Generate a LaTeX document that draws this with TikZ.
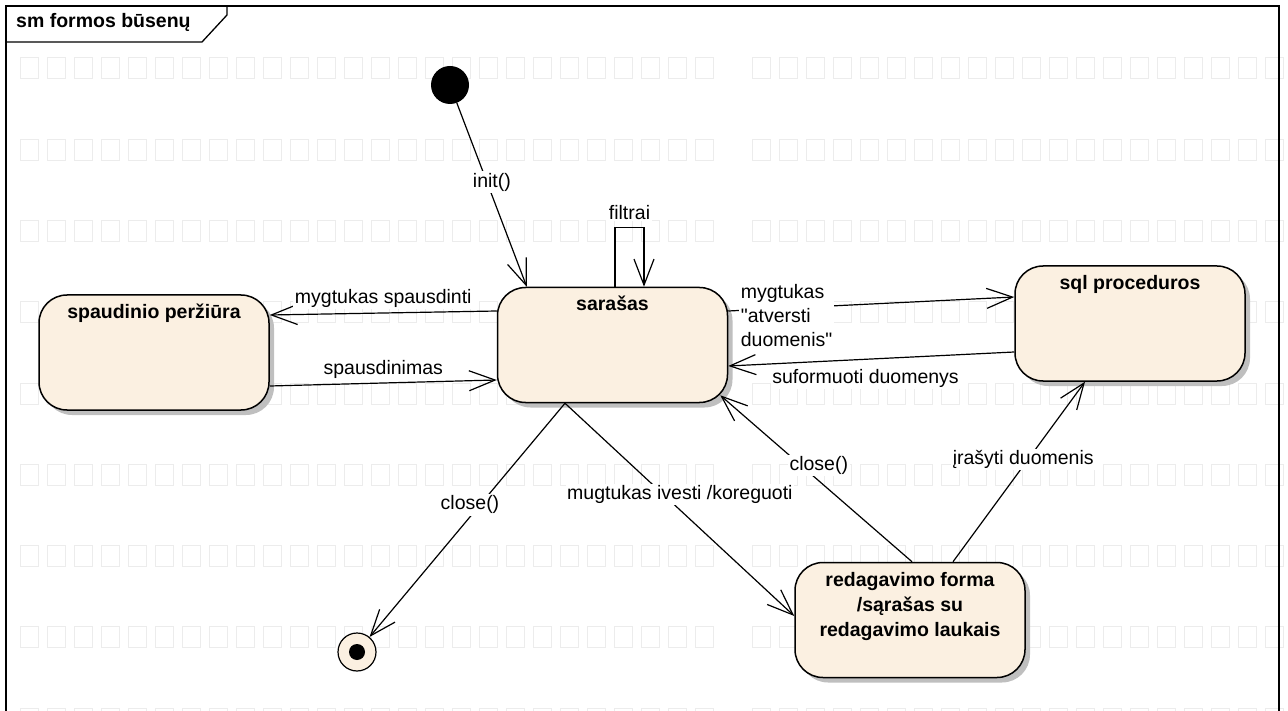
\documentclass[tikz,border=0pt]{standalone}
\usepackage{fontspec}
\setmainfont[Ligatures=TeXOff]{Liberation Sans}
\usetikzlibrary{arrows.meta,shadows}

\definecolor{stfill}{RGB}{251,240,225}
\definecolor{gridgray}{RGB}{236,236,236}

\begin{document}
\begin{tikzpicture}[x=1pt,y=-1pt]
  \tikzset{stbox/.style={draw,line width=1.5pt,fill=stfill,rounded corners=28pt,minimum width=230pt,minimum height=115pt,
      drop shadow={shadow xshift=5pt,shadow yshift=-5pt,fill=black!25,opacity=1}}}
  \tikzset{sttitle/.style={font=\fontsize{19.5}{25}\selectfont\bfseries,inner sep=0pt,align=center}}
  \tikzset{tr/.style={line width=1.2pt,-{Straight Barb[length=26pt,width=20pt]}}}
  \tikzset{lbl/.style={font=\fontsize{19.5}{24}\selectfont,fill=white,inner sep=1.5pt}}
  \tikzset{pagesq/.style={draw=gridgray,line width=1pt}}
  \useasboundingbox (0,0) rectangle (1288,711);
  % page grid
  \foreach \r in {0,...,8}{
    \foreach \c in {0,...,25}
      \draw[pagesq] (20+27*\c,58+81.25*\r) rectangle ++(18,21);
    \foreach \c in {0,...,19}
      \draw[pagesq] (752+27*\c,58+81.25*\r) rectangle ++(18,21);
  }
  % frame
  \draw[line width=1.3pt] (6,711) -- (6,6) -- (1279,6) -- (1279,711);
  \draw[line width=1.3pt] (6,42) -- (202,42) -- (227,15) -- (227,6);
  \node[font=\fontsize{19.5}{24}\selectfont\bfseries,anchor=base west,inner sep=0pt] (titlas) at (16,28) {sm formos būsenų};

  % states
  \node[circle,fill=black,minimum size=38pt,inner sep=0pt] (init) at (450,85) {};
  \node[circle,draw,line width=1.2pt,fill=stfill,minimum size=38pt,inner sep=0pt] (final) at (357,652) {};
  \node[circle,fill=black,minimum size=16pt,inner sep=0pt] (finaldot) at (final) {};

  \node[stbox] (saras) at (612.5,345) {};
  \node[stbox] (spaud) at (154,352.5) {};
  \node[stbox] (sql) at (1130,323.5) {};
  \node[stbox] (redag) at (910,620) {};
  \node[sttitle,anchor=base] (sarasT) at ([yshift=-24pt]saras.north) {sarašas};
  \node[sttitle,anchor=base] (spaudT) at ([yshift=-24pt]spaud.north) {spaudinio peržiūra};
  \node[sttitle,anchor=base] (sqlT) at ([yshift=-24pt]sql.north) {sql proceduros};
  \node[sttitle,anchor=north] (redagT) at ([yshift=-10pt]redag.north) {redagavimo forma\\/sąrašas su\\redagavimo laukais};

  % transitions
  \draw[tr] (init) -- node[lbl,pos=0.43,xshift=5pt] (lInit) {init()} ([xshift=30pt]saras.north west);
  \draw[tr] ([xshift=2.5pt]saras.north) -- ++(0,-59) -| node[lbl,pos=0.25,above=6pt] (lFiltr) {filtrai} ([xshift=31.5pt]saras.north);
  \draw[tr] ([yshift=34pt]saras.west) -- node[lbl,above=3pt] (lSpausd) {mygtukas spausdinti} ([yshift=37.5pt]spaud.east);
  \draw[tr] ([yshift=-33.5pt]spaud.east) -- node[lbl,above=2pt] (lSpausdinimas) {spausdinimas} ([yshift=-35pt]saras.west);
  \draw[tr] ([yshift=34pt]saras.east) -- node[lbl,align=left,anchor=north west,pos=0,xshift=10.5pt,yshift=28.7pt] (lAtv) {mygtukas\\"atversti\\duomenis"} ([yshift=26.5pt]sql.west);
  \draw[tr] ([yshift=-28.5pt]sql.west) -- node[lbl,below=7.5pt,pos=0.52] (lSuform) {suformuoti duomenys} ([yshift=-21pt]saras.east);
  \draw[tr] ([xshift=2pt]redag.north) -- node[lbl,pos=0.58,xshift=18pt] (lClose1) {close()} ([xshift=-8pt,yshift=8pt]saras.south east);
  \draw[tr] ([xshift=43pt]redag.north) -- node[lbl,pos=0.57,xshift=-5pt] (lIrasyti) {įrašyti duomenis} ([xshift=-45pt]sql.south);
  \draw[tr] ([xshift=-47.5pt]saras.south) -- node[lbl,pos=0.435,xshift=-10pt] (lClose2) {close()} (final);
  \draw[tr] ([xshift=-47.5pt]saras.south) -- node[lbl,pos=0.427,xshift=17pt] (lIvesti) {mugtukas ivesti /koreguoti} ([yshift=4pt]redag.west);
\end{tikzpicture}
\end{document}
